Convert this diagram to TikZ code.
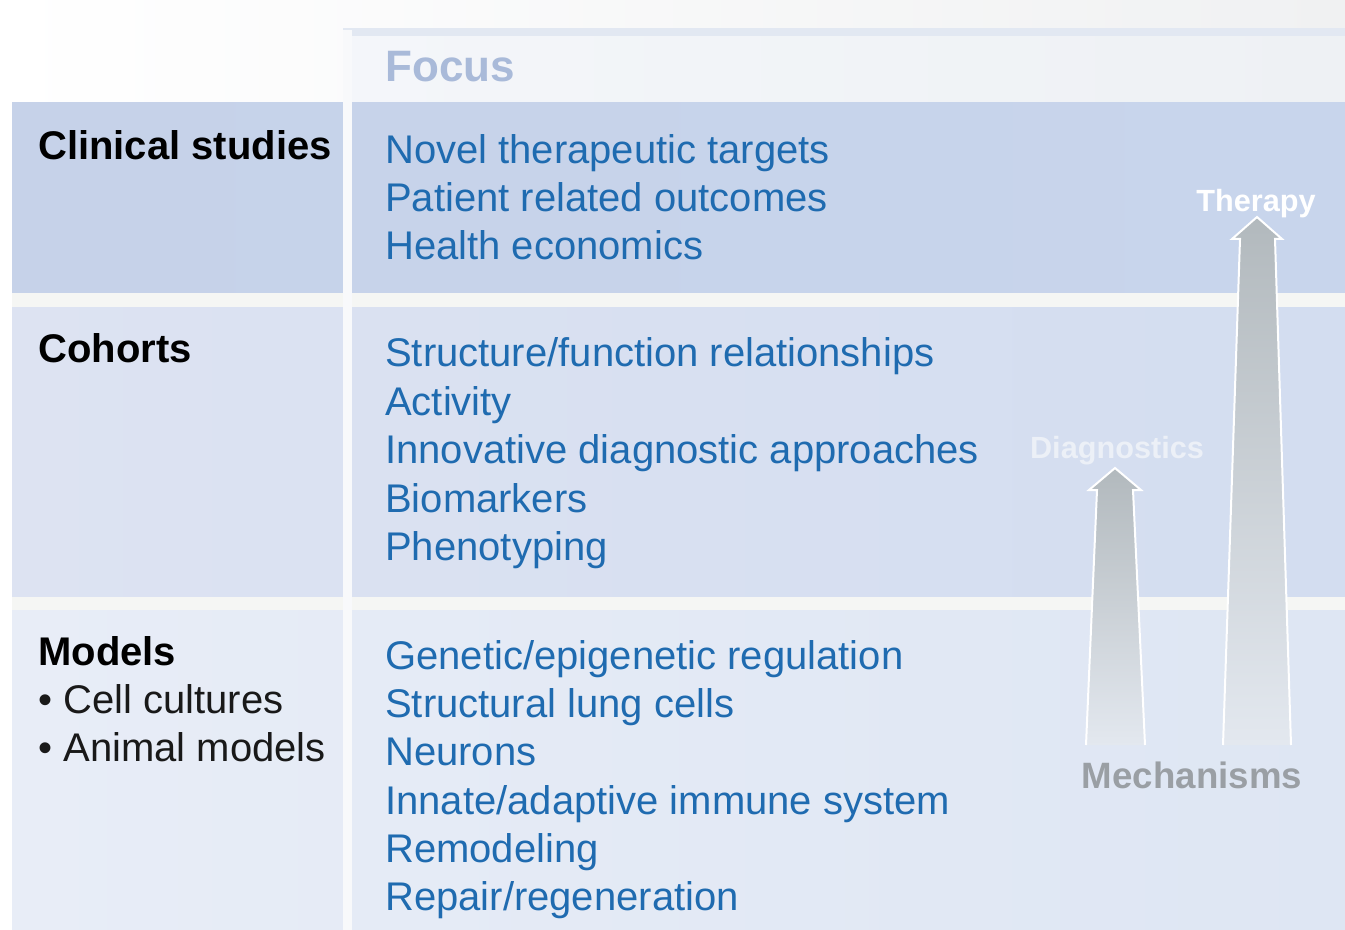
\documentclass[tikz,border=0pt]{standalone}
\usepackage{fontspec}
\setmainfont{Liberation Sans}
\definecolor{txtblue}{HTML}{1F6BB0}
\definecolor{focusc}{HTML}{A9BAD9}
\definecolor{mechc}{HTML}{9A9FA4}
\definecolor{arrtop}{HTML}{B2B9BD}
\definecolor{arrbot}{HTML}{E3E8EF}
\definecolor{gapc}{HTML}{F5F6F4}
\definecolor{sepc}{HTML}{F8F9FB}
\definecolor{framec}{HTML}{E2E8F2}
\begin{document}
\begin{tikzpicture}[x=0.75pt,y=-0.75pt,
  item/.style={anchor=base west, inner sep=0pt, text=txtblue, font=\fontsize{30}{36}\selectfont},
  rowhead/.style={anchor=base west, inner sep=0pt, text=black, font=\fontsize{30}{36}\selectfont\bfseries},
  rowsub/.style={anchor=base west, inner sep=0pt, text=black!90, font=\fontsize{30}{36}\selectfont},
  arrowlbl/.style={anchor=base, inner sep=0pt, text=white, font=\fontsize{23}{27}\selectfont\bfseries},
  bigarrow/.style={top color=arrtop, bottom color=arrbot, draw=none},
  arrowedge/.style={draw=white, line width=1.5pt, line join=miter},
]
\useasboundingbox (0,0) rectangle (1345,930);
% background
\fill[white] (0,0) rectangle (1345,930);
\shade[left color=white, right color={rgb,255:red,240;green,241;blue,242}] (0,0) rectangle (1345,103);
% header focus box
\shade[left color={rgb,255:red,244;green,246;blue,250}, right color={rgb,255:red,238;green,241;blue,244}] (343,30) rectangle (1345,103);
\fill[framec] (343,28) rectangle (1345,36);
% rows
\shade[left color={rgb,255:red,198;green,210;blue,233}, middle color={rgb,255:red,208;green,214;blue,236}, right color={rgb,255:red,200;green,213;blue,236}] (12,103) rectangle (1345,293);
\fill[gapc] (12,293) rectangle (1345,308);
\shade[left color={rgb,255:red,221;green,227;blue,242}, middle color={rgb,255:red,219;green,226;blue,241}, right color={rgb,255:red,211;green,221;blue,240}] (12,308) rectangle (1345,597);
\fill[gapc] (12,597) rectangle (1345,610);
\shade[left color={rgb,255:red,232;green,237;blue,247}, middle color={rgb,255:red,231;green,236;blue,246}, right color={rgb,255:red,222;green,230;blue,243}] (12,610) rectangle (1345,930);
% vertical separator
\fill[sepc] (343,30) rectangle (352,930);

% arrows
\coordinate (dbl) at (1086,745);
\coordinate (dbr) at (1145,745);
\coordinate (dtip) at (1115,468);
\coordinate (tbl) at (1223,745);
\coordinate (tbr) at (1291,745);
\coordinate (ttip) at (1257,217);
\path[bigarrow] (dbl) -- (1097,490) -- (1089,490) -- (dtip) -- (1141,490) -- (1133,490) -- (dbr) -- cycle;
\draw[arrowedge] (dbl) -- (1097,490) -- (1089,490) -- (dtip) -- (1141,490) -- (1133,490) -- (dbr);
\path[bigarrow] (tbl) -- (1240,239) -- (1232,239) -- (ttip) -- (1282,239) -- (1275,239) -- (tbr) -- cycle;
\draw[arrowedge] (tbl) -- (1240,239) -- (1232,239) -- (ttip) -- (1282,239) -- (1275,239) -- (tbr);

% header
\node[anchor=base west, inner sep=0pt, text=focusc, font=\fontsize{33}{40}\selectfont\bfseries] (focus) at (385,82) {Focus};

% left column
\node[rowhead] (clin) at (38,160) {Clinical studies};
\node[rowhead] (coh) at (38,363) {Cohorts};
\node[rowhead] (mod) at (38,665) {Models};
\node[rowsub] (cell) at (38,713) {• Cell cultures};
\node[rowsub] (anim) at (38,761) {• Animal models};

% focus items
\node[item] (c1) at (385,164) {Novel therapeutic targets};
\node[item] (c2) at (385,212) {Patient related outcomes};
\node[item] (c3) at (385,260) {Health economics};
\node[item] (h1) at (385,367) {Structure/function relationships};
\node[item] (h2) at (385,415) {Activity};
\node[item] (h3) at (385,463) {Innovative diagnostic approaches};
\node[item] (h4) at (385,512) {Biomarkers};
\node[item] (h5) at (385,560) {Phenotyping};
\node[item] (m1) at (385,669) {Genetic/epigenetic regulation};
\node[item] (m2) at (385,717) {Structural lung cells};
\node[item] (m3) at (385,765) {Neurons};
\node[item] (m4) at (385,814) {Innate/adaptive immune system};
\node[item] (m5) at (385,862) {Remodeling};
\node[item] (m6) at (385,910) {Repair/regeneration};

% arrow labels
\node[arrowlbl] (ther) at (1256,212) {Therapy};
\node[arrowlbl, text={rgb,255:red,236;green,240;blue,247}] (diag) at (1117,458) {Diagnostics};
\node[anchor=base, inner sep=0pt, text=mechc, font=\fontsize{27.5}{33}\selectfont\bfseries] (mech) at (1192,788) {Mechanisms};
\end{tikzpicture}
\end{document}
